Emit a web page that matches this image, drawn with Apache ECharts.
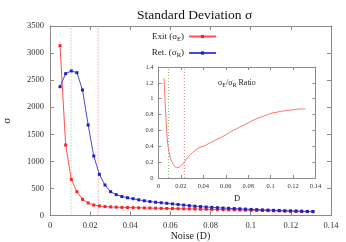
<!DOCTYPE html>
<html><head><meta charset="utf-8">
<script src="https://cdn.jsdelivr.net/npm/echarts@6/dist/echarts.min.js"></script>
<style>html,body{margin:0;padding:0;background:#fff}#c{width:346px;height:242px}</style>
</head><body><div id="c"></div>
<script>
const noise = [0.005,0.0078,0.0106,0.0134,0.0162,0.019,0.0218,0.0246,0.0274,0.0302,0.033,0.0358,0.0386,0.0414,0.0442,0.047,0.0498,0.0526,0.0554,0.0582,0.061,0.0638,0.0666,0.0694,0.0722,0.075,0.0778,0.0806,0.0834,0.0862,0.089,0.0918,0.0946,0.0974,0.1002,0.103,0.1058,0.1086,0.1114,0.1142,0.117,0.1198,0.1226,0.1254,0.1282,0.131];
const exitSigma = [3136,1302,668,440,299,231,194,176,165,158,154,150,147,145,142,140,137,135,132,130,128,126,124,122,120,117,115,112,110,108,106,104,102,100,97,95,92,90,87,85,82,80,77,75,72,70];
const retSigma = [2379,2620,2670,2638,2318,1672,1099,760,563,440,385,350,328,310,290,272,257,245,235,225,214,203,193,182,172,165,157,150,144,138,133,128,123,118,112,108,104,100,96,92,88,85,82,79,76,73];
const ratio = [1.26,0.5,0.25,0.17,0.13,0.14,0.18,0.23,0.28,0.32,0.35,0.38,0.395,0.41,0.43,0.45,0.47,0.49,0.51,0.53,0.555,0.58,0.6,0.62,0.64,0.66,0.68,0.70,0.72,0.74,0.755,0.77,0.785,0.80,0.815,0.825,0.83,0.84,0.845,0.85,0.855,0.86,0.865,0.87,0.87,0.868];
const mainYTicks = {min:0, max:3500, step:500};
const xTicks = {min:0, max:0.14, step:0.02};
const insetYTicks = {min:0, max:1.4, step:0.2};
const mainMarks = [0.0105, 0.024];
const insetMarks = [0.009, 0.023];

const SERIF = 'Liberation Serif';
const gray = '#8a8a8a';
const pair = (xs, ys) => xs.map((x,i)=>[x, ys[i]]);
const fmt = v => String(+v.toFixed(2));

function axisX(grid, pos, labels, fs){
  return {type:'value', gridIndex:grid, position:pos, min:xTicks.min, max:xTicks.max, interval:xTicks.step,
    axisLine:{show:true, onZero:false, lineStyle:{color:gray, width:1}},
    axisTick:{show:true, inside:true, length:grid===0?4:3, lineStyle:{color:gray}},
    axisLabel:{show:labels, formatter:fmt, fontFamily:SERIF, fontSize:fs, color:'#333', margin:grid===0?6:5},
    splitLine:{show:false}};
}
function axisY(grid, pos, labels, t, fs){
  return {type:'value', gridIndex:grid, position:pos, min:t.min, max:t.max, interval:t.step,
    axisLine:{show:true, onZero:false, lineStyle:{color:gray, width:1}},
    axisTick:{show:true, inside:true, length:grid===0?4:3, lineStyle:{color:gray}},
    axisLabel:{show:labels, formatter:fmt, fontFamily:SERIF, fontSize:fs, color:'#333', margin:grid===0?6:5},
    splitLine:{show:false}};
}
function vline(xi, yi, x, top, color){
  return {type:'line', xAxisIndex:xi, yAxisIndex:yi, data:[[x,0],[x,top]], symbol:'none', silent:true,
    lineStyle:{color:color, width:1, type:[1,2]}, z:1};
}

const chart = echarts.init(document.getElementById('c'), null, {renderer:'canvas'});
const xa0 = axisX(0,'bottom',true,8.5);
xa0.name = 'Noise (D)'; xa0.nameLocation='middle'; xa0.nameGap=16; xa0.nameMoveOverlap=false;
xa0.nameTextStyle = {fontFamily:SERIF, fontSize:10, color:'#222', verticalAlign:'top'};
const ya0 = axisY(0,'left',true,mainYTicks,8.5);
ya0.name = 'σ'; ya0.nameLocation='middle'; ya0.nameGap=37; ya0.nameRotate=90; ya0.nameMoveOverlap=false;
ya0.nameTextStyle = {fontFamily:SERIF, fontSize:11, color:'#222'};
const xa2 = axisX(1,'bottom',true,6.5);
xa2.name='D'; xa2.nameLocation='middle'; xa2.nameGap=16; xa2.nameMoveOverlap=false;
xa2.nameTextStyle = {fontFamily:SERIF, fontSize:8.5, color:'#222'};
const ya2 = axisY(1,'left',true,insetYTicks,6.5);

const sub = {a:{fontFamily:SERIF, fontSize:9, fontWeight:'normal', color:'#222'}, s:{fontFamily:SERIF, fontSize:6.5, fontWeight:'normal', color:'#222', padding:[5,0,0,0]}};
const subI = {a:{fontFamily:SERIF, fontSize:8, fontWeight:'normal', color:'#222'}, s:{fontFamily:SERIF, fontSize:6, fontWeight:'normal', color:'#222', padding:[4,0,0,0]}};

chart.setOption({
  animation:false,
  backgroundColor:'#fff',
  title:[
    {text:'Standard Deviation σ', left:132, top:3, textStyle:{fontFamily:SERIF, fontSize:13.5, fontWeight:'normal', color:'#111'}},
    {text:'{a|σ}{s|E}{a|/σ}{s|R}{a| Ratio}', left:213, top:73, textStyle:{fontWeight:'normal', rich:subI}}
  ],
  legend:{orient:'vertical', right:124, top:27, align:'right', itemWidth:27, itemHeight:4, itemGap:6,
    data:['Exit','Ret.'],
    formatter: n => n==='Exit' ? '{a|Exit (σ}{s|E}{a|)}' : '{a|Ret. (σ}{s|R}{a|)}',
    textStyle:{rich:sub}},
  grid:[
    {left:50, right:15, top:26, bottom:26.5, show:false, outerBoundsMode:'none', containLabel:false},
    {left:158.5, right:30.5, top:67, bottom:64, show:true, backgroundColor:'#fff', borderWidth:0, outerBoundsMode:'none', containLabel:false}
  ],
  xAxis:[xa0, axisX(0,'top',false,8), xa2, axisX(1,'top',false,6.5)],
  yAxis:[ya0, axisY(0,'right',false,mainYTicks,8), ya2, axisY(1,'right',false,insetYTicks,6.5)],
  series:[
    vline(0,0,mainMarks[0],mainYTicks.max,'#7c7'),
    vline(0,0,mainMarks[1],mainYTicks.max,'#e77'),
    {name:'Exit', type:'line', xAxisIndex:0, yAxisIndex:0, data:pair(noise, exitSigma),
      symbol:'rect', symbolSize:3, lineStyle:{color:'#ff5050', width:1}, itemStyle:{color:'#ff2020'}, z:3},
    {name:'Ret.', type:'line', xAxisIndex:0, yAxisIndex:0, data:pair(noise, retSigma),
      symbol:'rect', symbolSize:3, lineStyle:{color:'#4848e0', width:1}, itemStyle:{color:'#2020c0'}, z:3},
    vline(2,2,insetMarks[0],insetYTicks.max,'#7c7'),
    vline(2,2,insetMarks[1],insetYTicks.max,'#e77'),
    {name:'ratio', type:'line', xAxisIndex:2, yAxisIndex:2, data:pair(noise, ratio), smooth:0.4,
      showSymbol:false, symbol:'none', lineStyle:{color:'#ff7070', width:1}, z:3}
  ]
});
</script></body></html>
